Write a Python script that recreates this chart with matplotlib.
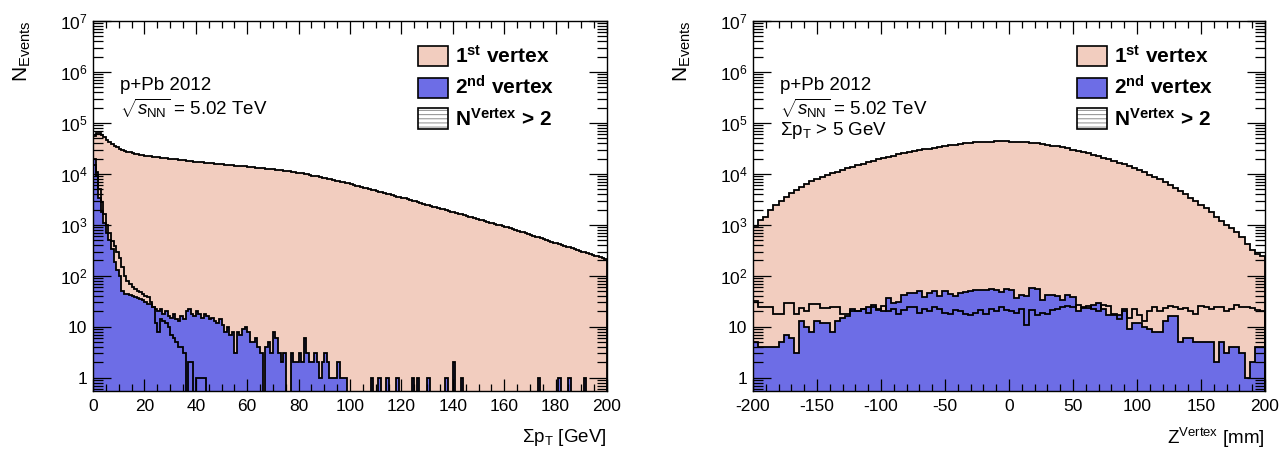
import numpy as np
import matplotlib.pyplot as plt
from matplotlib.patches import Patch
from matplotlib.ticker import FixedLocator, LogLocator, NullFormatter, MultipleLocator

plt.rcParams['font.family'] = ['Liberation Sans', 'DejaVu Sans']
plt.rcParams['mathtext.fontset'] = 'custom'
plt.rcParams['mathtext.rm'] = 'Liberation Sans'
plt.rcParams['mathtext.it'] = 'Liberation Sans:italic'
plt.rcParams['mathtext.bf'] = 'Liberation Sans:bold'
plt.rcParams['axes.unicode_minus'] = False
plt.rcParams['hatch.linewidth'] = 0.8

# ---- sum pT of the vertices, 1 GeV bins from 0 to 200 GeV ----
pt_range = (0, 200)

pt_first = [
    55000, 63000, 63000, 58000, 52000, 47000, 42000, 38000, 35000, 33000,
    31000, 29500, 28200, 27200, 26300, 25600, 25000, 24400, 23800, 23300,
    22800, 22400, 22000, 21700, 21400, 21100, 20800, 20500, 20300, 20000,
    19800, 19500, 19300, 19000, 18800, 18500, 18300, 18000, 17800, 17500,
    17300, 17000, 16800, 16600, 16400, 16200, 16000, 15800, 15600, 15500,
    15300, 15200, 15000, 14900, 14700, 14600, 14400, 14300, 14100, 14000,
    13800, 13700, 13500, 13300, 13200, 13000, 12900, 12700, 12600, 12400,
    12300, 12100, 12000, 11800, 11600, 11400, 11200, 11000, 10800, 10600,
    10400, 10200, 10000, 9800, 9600, 9300, 9100, 8900, 8600, 8400,
    8200, 8000, 7800, 7600, 7400, 7200, 7000, 6800, 6600, 6500,
    6300, 6100, 5900, 5700, 5500, 5400, 5200, 5100, 4900, 4800,
    4650, 4500, 4350, 4200, 4100, 3950, 3850, 3700, 3600, 3500,
    3400, 3300, 3200, 3100, 3000, 2900, 2800, 2700, 2600, 2500,
    2430, 2360, 2290, 2220, 2150, 2080, 2010, 1940, 1870, 1800,
    1750, 1700, 1650, 1600, 1550, 1500, 1450, 1400, 1350, 1300,
    1260, 1220, 1180, 1140, 1100, 1070, 1040, 1010, 980, 950,
    920, 890, 860, 830, 800, 770, 740, 710, 680, 650,
    630, 610, 590, 570, 550, 530, 510, 490, 470, 450,
    435, 420, 405, 390, 375, 360, 345, 330, 320, 310,
    300, 290, 280, 270, 260, 250, 240, 230, 220, 210,
]

pt_second = [
    20000, 11000, 3300, 1800, 1100, 700, 500, 340, 190, 130,
    100, 50, 45, 45, 42, 40, 38, 36, 35, 33,
    30, 28, 28, 25, 22, 20, 22, 18, 20, 16,
    15, 18, 14, 13, 16, 14, 20, 22, 18, 16,
    20, 18, 15, 18, 16, 14, 15, 13, 12, 14,
    11, 8, 10, 7, 8, 3, 8, 7, 9, 10,
    8, 5, 5, 6, 4, 3, 0, 4, 5, 3,
    8, 6, 3, 2, 3, 0, 0, 3, 2, 2,
    3, 2, 6, 3, 2, 2, 3, 2, 1, 2,
    3, 2, 1, 1, 1, 2, 1, 1, 1, 0,
    0, 0, 0, 0, 0, 0, 0, 0, 1, 0,
    0, 1, 0, 0, 1, 0, 0, 0, 1, 0,
    0, 0, 0, 0, 1, 0, 1, 0, 0, 0,
    1, 0, 0, 0, 0, 0, 0, 1, 0, 0,
    2, 0, 0, 1, 0, 0, 0, 0, 0, 0,
    0, 0, 0, 0, 0, 0, 0, 0, 0, 0,
    0, 0, 0, 0, 0, 0, 0, 0, 0, 0,
    0, 0, 0, 1, 0, 0, 0, 0, 0, 0,
    0, 1, 0, 0, 0, 1, 0, 0, 0, 0,
    0, 1, 0, 0, 0, 0, 0, 0, 0, 0,
]

pt_more = [
    15000, 9000, 5000, 2800, 1600, 1000, 700, 480, 380, 300,
    220, 150, 100, 80, 70, 60, 55, 50, 48, 45,
    40, 38, 30, 25, 12, 8, 14, 13, 12, 10,
    7, 6, 5, 4, 4, 3, 0, 2, 2, 0,
    1, 1, 1, 1,
]
pt_more = pt_more + [0] * (len(pt_first) - len(pt_more))

# ---- z position of the vertices, 4 mm bins from -200 to 200 mm ----
z_range = (-200, 200)

z_first = [
    950, 1250, 1450, 1950, 2500, 3000, 3500, 4200, 4800, 5500,
    6200, 7100, 8000, 8700, 9500, 10300, 11100, 12000, 12800, 13700,
    14700, 15700, 16900, 18000, 19300, 20500, 21700, 22900, 24100, 25300,
    26500, 27800, 29000, 30200, 31400, 32600, 33900, 35100, 36300, 37400,
    38500, 39500, 40500, 41400, 42100, 42700, 43100, 43400, 43500, 43400,
    43100, 42700, 42100, 41400, 40600, 39600, 38500, 37300, 36000, 34600,
    33100, 31600, 30000, 28500, 26900, 25400, 23900, 22400, 20900, 19500,
    18100, 16700, 15400, 14100, 12900, 11800, 10700, 9700, 8700, 7800,
    6900, 6100, 5300, 4600, 4000, 3400, 2900, 2450, 2100, 1750,
    1450, 1200, 1000, 850, 720, 580, 430, 320, 270, 240,
]

z_second = [
    5, 4, 4, 4, 4, 5, 7, 6, 3, 13,
    10, 8, 13, 12, 12, 8, 13, 15, 16, 22,
    20, 22, 25, 27, 22, 20, 37, 29, 30, 43,
    46, 46, 50, 38, 46, 50, 40, 50, 44, 40,
    46, 48, 50, 52, 52, 52, 54, 53, 48, 54,
    52, 37, 42, 41, 57, 56, 34, 42, 43, 40,
    33, 42, 38, 20, 23, 23, 27, 29, 22, 17,
    17, 17, 22, 9, 12, 12, 10, 9, 8, 8,
    13, 16, 16, 5, 6, 6, 5, 5, 5, 5,
    2, 5, 3, 4, 4, 3, 1, 2, 4, 4,
]

z_more = [
    32, 25, 25, 25, 18, 18, 29, 29, 18, 23,
    20, 28, 28, 23, 23, 25, 25, 18, 18, 20,
    20, 22, 19, 24, 21, 26, 20, 22, 18, 21,
    24, 25, 19, 22, 20, 25, 22, 19, 18, 21,
    20, 18, 17, 19, 21, 18, 22, 20, 24, 21,
    20, 19, 22, 11, 21, 17, 19, 18, 21, 22,
    24, 26, 24, 27, 24, 26, 22, 20, 27, 26,
    18, 14, 20, 15, 22, 17, 13, 20, 25, 20,
    23, 26, 24, 22, 23, 20, 18, 26, 24, 22,
    25, 24, 20, 22, 27, 25, 24, 23, 21, 20,
]

labels = [r'1$^{\mathbf{st}}$ vertex', r'2$^{\mathbf{nd}}$ vertex',
          r'N$^{\mathbf{Vertex}}$ > 2']

c_first = '#f2cdbf'
c_second = '#6d6de6'
ymin, ymax = 0.55, 1e7
floor = 1e-3


def draw_hists(ax, xr, first, second, more):
    edges = np.linspace(xr[0], xr[1], len(first) + 1)
    h1 = np.where(np.array(first) > 0, first, floor)
    h2 = np.where(np.array(second) > 0, second, floor)
    h3 = np.where(np.array(more) > 0, more, floor)
    ax.stairs(h1, edges, baseline=floor, fill=True, color=c_first)
    ax.stairs(h2, edges, baseline=floor, fill=True, color=c_second)
    for h in (h1, h3, h2):
        ax.stairs(h, edges, baseline=floor, color='black', lw=1.3)
    ax.set_xlim(xr)
    ax.set_yscale('log')
    ax.set_ylim(ymin, ymax)


def style_axes(ax, major, minor):
    ax.xaxis.set_major_locator(MultipleLocator(major))
    ax.xaxis.set_minor_locator(MultipleLocator(minor))
    ax.yaxis.set_major_locator(FixedLocator([10.0**k for k in range(8)]))
    ax.set_yticklabels(['1', '10'] + [r'$10^{%d}$' % k for k in range(2, 8)])
    ax.yaxis.set_minor_locator(LogLocator(base=10, subs=np.arange(2, 10), numticks=20))
    ax.yaxis.set_minor_formatter(NullFormatter())
    ax.tick_params(which='both', direction='in', top=True, right=True,
                   labelsize=12.5, width=0.9)
    ax.tick_params(axis='x', which='major', length=9, pad=6)
    ax.tick_params(axis='x', which='minor', length=5)
    ax.tick_params(axis='y', which='major', length=13, pad=4)
    ax.tick_params(axis='y', which='minor', length=7)
    for s in ax.spines.values():
        s.set_linewidth(1.0)


def add_legend(ax):
    # hatched box for the N > 2 entry: grey lines under a black frame
    more_box = (Patch(facecolor='white', edgecolor='#9a9a9a', hatch='----', lw=0),
                Patch(facecolor='none', edgecolor='black', lw=1.2))
    handles = [
        Patch(facecolor=c_first, edgecolor='black', lw=1.2),
        Patch(facecolor=c_second, edgecolor='black', lw=1.2),
        more_box,
    ]
    ax.legend(handles, labels, loc='upper left', bbox_to_anchor=(0.632, 0.935),
              frameon=False, prop={'size': 15, 'weight': 'bold'},
              handlelength=1.45, handleheight=1.15, handletextpad=0.35,
              labelspacing=0.42, borderpad=0, borderaxespad=0)


W, H = 1286, 454
fig = plt.figure(figsize=(W / 100, H / 100), dpi=100)
ax1 = fig.add_axes([93 / W, 1 - 391 / H, 514 / W, 370 / H])
ax2 = fig.add_axes([753 / W, 1 - 391 / H, 512 / W, 370 / H])

draw_hists(ax1, pt_range, pt_first, pt_second, pt_more)
draw_hists(ax2, z_range, z_first, z_second, z_more)
style_axes(ax1, 20, 5)
style_axes(ax2, 50, 10)
add_legend(ax1)
add_legend(ax2)

for ax in (ax1, ax2):
    ax.text(0.053, 0.825, 'p+Pb 2012', transform=ax.transAxes, fontsize=13.5, va='center')
    ax.text(0.053, 0.765, r'$\sqrt{s_{\mathrm{NN}}}$ = 5.02 TeV', transform=ax.transAxes,
            fontsize=13.5, va='center')
ax2.text(0.053, 0.705, r'$\Sigma$p$_{\mathrm{T}}$ > 5 GeV', transform=ax2.transAxes,
         fontsize=13.5, va='center')

fig.text(22 / W, 1 - 20 / H, r'N$_{\mathrm{Events}}$', rotation=90, ha='center', va='top', fontsize=15)
fig.text(682 / W, 1 - 20 / H, r'N$_{\mathrm{Events}}$', rotation=90, ha='center', va='top', fontsize=15)
fig.text(607 / W, 1 - 438 / H, r'$\Sigma$p$_{\mathrm{T}}$ [GeV]', ha='right', va='center', fontsize=13.5)
fig.text(1265 / W, 1 - 438 / H, r'Z$^{\mathrm{Vertex}}$ [mm]', ha='right', va='center', fontsize=13.5)

fig.savefig('out.png', dpi=100)
